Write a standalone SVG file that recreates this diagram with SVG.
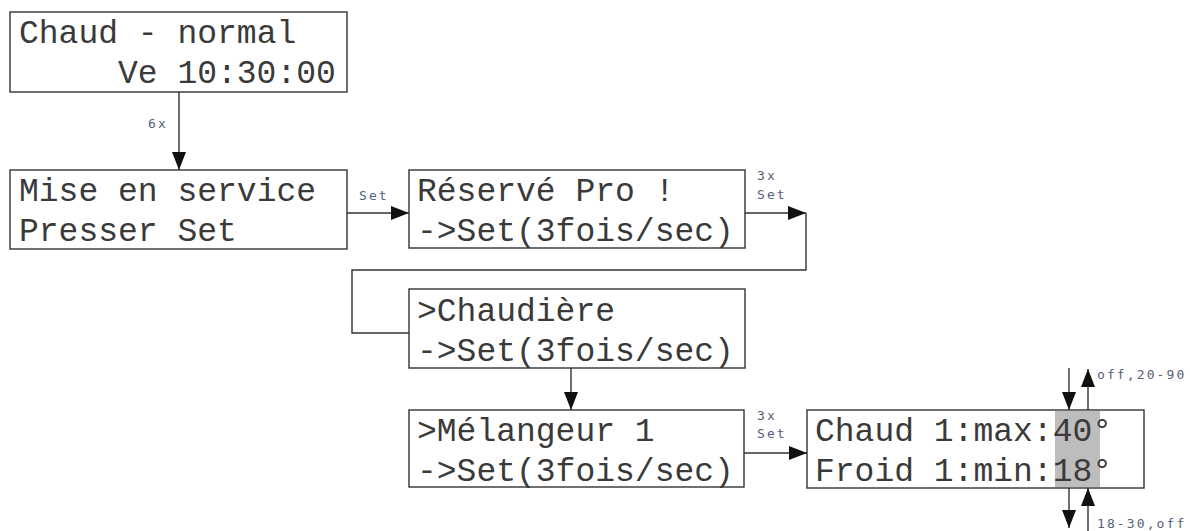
<svg xmlns="http://www.w3.org/2000/svg" width="1190" height="531" viewBox="0 0 1190 531">
<defs>
<style>
.box{fill:#fff;stroke:#333;stroke-width:1.4}
.lcd{font-family:"Liberation Mono","Courier New",monospace;font-size:33px;fill:#3a3a3a}
.lbl{font-family:"DejaVu Sans Mono","Liberation Mono",monospace;font-size:13px;letter-spacing:2.1px;fill:#55607a}
.ln{fill:none;stroke:#333;stroke-width:1.4}
.hl{fill:#bdbdbd}
</style>
<marker id="ah" viewBox="0 0 18 14" refX="18" refY="7" markerWidth="18" markerHeight="14" markerUnits="userSpaceOnUse" orient="auto">
<path d="M0,0 L18,7 L0,14 Z" fill="#111"/>
</marker>
</defs>
<rect width="1190" height="531" fill="#fff"/>
<g id="connectors">
<path class="ln" d="M179,92 V170" marker-end="url(#ah)"/>
<path class="ln" d="M347,213 H409" marker-end="url(#ah)"/>
<path class="ln" d="M745,213 H806" marker-end="url(#ah)"/>
<path class="ln" d="M806,213 V270 H352 V333 H409"/>
<path class="ln" d="M571,368 V410" marker-end="url(#ah)"/>
<path class="ln" d="M744,453 H807" marker-end="url(#ah)"/>
<path class="ln" d="M1069,368 V410" marker-end="url(#ah)"/>
<path class="ln" d="M1088,410 V369" marker-end="url(#ah)"/>
<path class="ln" d="M1069,488 V528" marker-end="url(#ah)"/>
<path class="ln" d="M1088,531 V488" marker-end="url(#ah)"/>
<text class="lbl" x="148" y="128">6x</text>
<text class="lbl" x="359" y="200">Set</text>
<text class="lbl" x="757" y="180">3x</text>
<text class="lbl" x="757" y="199">Set</text>
<text class="lbl" x="757" y="420">3x</text>
<text class="lbl" x="757" y="438">Set</text>
<text class="lbl" x="1097" y="379">off,20-90</text>
<text class="lbl" x="1097" y="528">18-30,off</text>
</g>
<g id="n1">
<rect class="box" x="10" y="12" width="337" height="80"/>
<text class="lcd" x="19" y="43">Chaud - normal</text>
<text class="lcd" x="118" y="83">Ve 10:30:00</text>
</g>
<g id="n2">
<rect class="box" x="10" y="170" width="337" height="79"/>
<text class="lcd" x="19" y="201">Mise en service</text>
<text class="lcd" x="19" y="241">Presser Set</text>
</g>
<g id="n3">
<rect class="box" x="409" y="170" width="336" height="78"/>
<text class="lcd" x="417" y="201">Réservé Pro !</text>
<text class="lcd" x="417" y="241">-&gt;Set(3fois/sec)</text>
</g>
<g id="n4">
<rect class="box" x="409" y="289" width="336" height="79"/>
<text class="lcd" x="417" y="321">&gt;Chaudière</text>
<text class="lcd" x="417" y="361">-&gt;Set(3fois/sec)</text>
</g>
<g id="n5">
<rect class="box" x="409" y="410" width="335" height="77"/>
<text class="lcd" x="417" y="441">&gt;Mélangeur 1</text>
<text class="lcd" x="417" y="481">-&gt;Set(3fois/sec)</text>
</g>
<g id="n6">
<rect class="box" x="807" y="410" width="337" height="78"/>
<rect class="hl" x="1055" y="411" width="45" height="76"/>
<text class="lcd" x="815" y="441">Chaud 1:max:40°</text>
<text class="lcd" x="815" y="481">Froid 1:min:18°</text>
</g>
</svg>
